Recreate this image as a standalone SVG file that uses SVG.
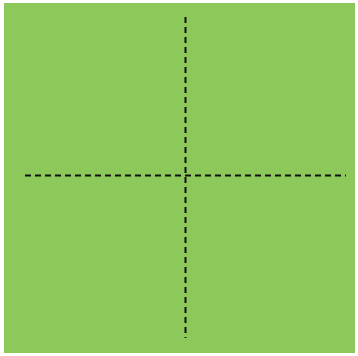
<svg xmlns="http://www.w3.org/2000/svg" width="358" height="356" viewBox="0 0 358 356">
<style>
.fold{stroke:#111;stroke-width:2;stroke-dasharray:6 4;fill:none}
</style>
<rect width="358" height="356" fill="#ffffff"/>
<rect x="4" y="3" width="351" height="350" fill="#8dc85b"/>
<g id="folds">
<line class="fold" x1="185.5" y1="17" x2="185.5" y2="338"/>
<line class="fold" x1="25" y1="175.5" x2="346" y2="175.5"/>
</g>
</svg>
